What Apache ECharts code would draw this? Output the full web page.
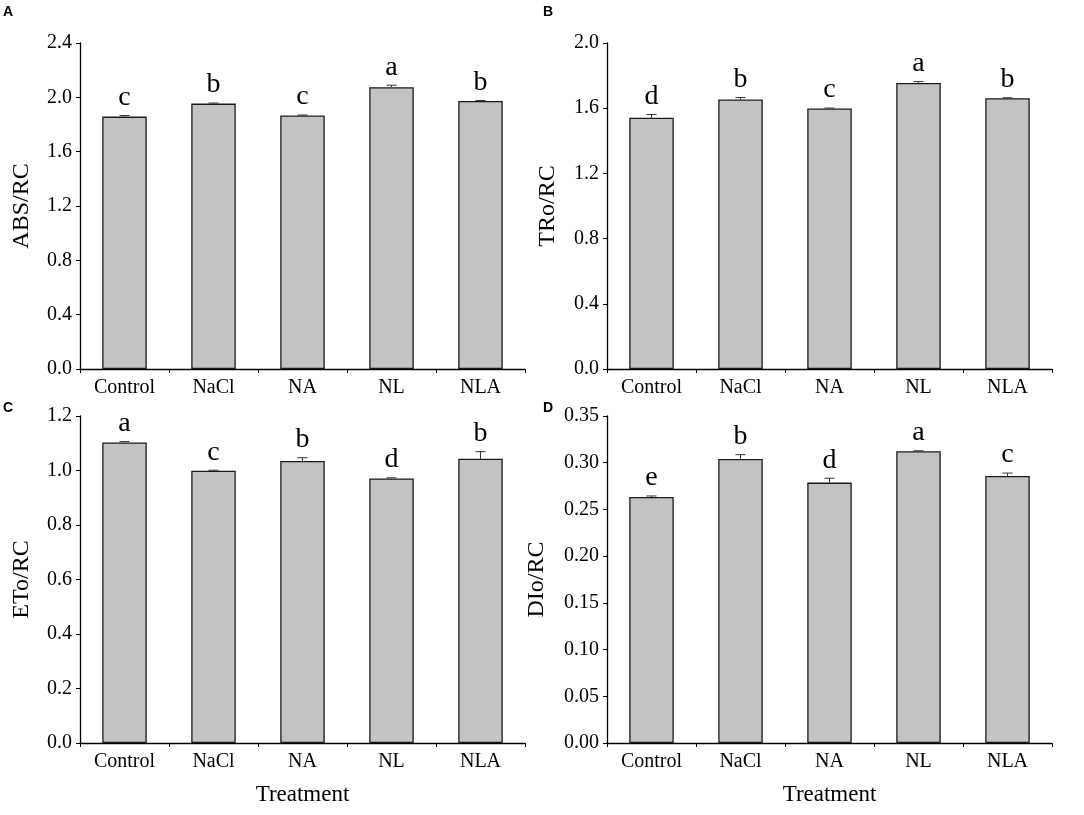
<!DOCTYPE html>
<html>
<head>
<meta charset="utf-8">
<title>Treatment chart</title>
<script src="https://cdn.jsdelivr.net/npm/echarts@6/dist/echarts.min.js"></script>
<style>
  html, body { margin: 0; padding: 0; background: #fff; }
  #main { width: 1084px; height: 815px; }
</style>
</head>
<body>
<div id="main"></div>
<script>
var categories = ['Control', 'NaCl', 'NA', 'NL', 'NLA'];

// A: ABS/RC
var absValues = [1.858, 1.954, 1.866, 2.074, 1.973];
var absErrors = [0.008, 0.004, 0.004, 0.015, 0.004];
var absLetters = ['c', 'b', 'c', 'a', 'b'];

// B: TRo/RC
var trValues = [1.541, 1.653, 1.598, 1.755, 1.661];
var trErrors = [0.02, 0.012, 0.003, 0.008, 0.003];
var trLetters = ['d', 'b', 'c', 'a', 'b'];

// C: ETo/RC
var etValues = [1.103, 0.999, 1.035, 0.971, 1.043];
var etErrors = [0.003, 0.002, 0.012, 0.002, 0.026];
var etLetters = ['a', 'c', 'b', 'd', 'b'];

// D: DIo/RC
var diValues = [0.2634, 0.304, 0.2787, 0.3123, 0.2859];
var diErrors = [0.001, 0.0046, 0.0047, 0.0005, 0.003];
var diLetters = ['e', 'b', 'd', 'a', 'c'];

var serif = '"Liberation Serif", "Times New Roman", serif';

var panels = [
    { name: 'ABS/RC', values: absValues, errors: absErrors, letters: absLetters, max: 2.4, interval: 0.4, digits: 1, gap: 46 },
    { name: 'TRo/RC', values: trValues, errors: trErrors, letters: trLetters, max: 2.0, interval: 0.4, digits: 1, gap: 47 },
    { name: 'ETo/RC', values: etValues, errors: etErrors, letters: etLetters, max: 1.2, interval: 0.2, digits: 1, gap: 46 },
    { name: 'DIo/RC', values: diValues, errors: diErrors, letters: diLetters, max: 0.35, interval: 0.05, digits: 2, gap: 58 }
];

var grids = [
    { left: 80, top: 43, width: 445, height: 326 },
    { left: 607, top: 43, width: 445, height: 326 },
    { left: 80, top: 416, width: 445, height: 327 },
    { left: 607, top: 416, width: 445, height: 327 }
];

var xAxes = [], yAxes = [], series = [];

panels.forEach(function(p, i) {
    xAxes.push({
        type: 'category',
        gridIndex: i,
        data: categories,
        name: i >= 2 ? 'Treatment' : '',
        nameLocation: 'middle',
        nameGap: 40,
        nameTextStyle: { fontFamily: serif, fontSize: 23, color: '#000' },
        axisLine: { lineStyle: { color: '#000', width: 1.3 } },
        axisTick: { show: true, length: 4, lineStyle: { color: '#000' } },
        axisLabel: { fontFamily: serif, fontSize: 20, color: '#000', margin: 9 }
    });
    yAxes.push({
        type: 'value',
        gridIndex: i,
        min: 0,
        max: p.max,
        interval: p.interval,
        name: p.name,
        nameLocation: 'middle',
        nameGap: p.gap,
        nameTextStyle: { fontFamily: serif, fontSize: 24, color: '#000' },
        axisLine: { show: true, lineStyle: { color: '#000', width: 1.3 } },
        axisTick: { show: true, length: 4, lineStyle: { color: '#000' } },
        splitLine: { show: false },
        axisLabel: {
            fontFamily: serif, fontSize: 20, color: '#000', margin: 8,
            formatter: function(v) { return v.toFixed(p.digits); }
        }
    });
    series.push({
        type: 'bar',
        xAxisIndex: i,
        yAxisIndex: i,
        data: p.values,
        barWidth: '50%',
        itemStyle: { color: '#c3c3c3', borderColor: '#1a1a1a', borderWidth: 1.3 }
    });
    // error bars + significance letters
    var errData = p.values.map(function(v, k) { return [k, v, p.errors[k]]; });
    series.push({
        type: 'custom',
        xAxisIndex: i,
        yAxisIndex: i,
        data: errData,
        z: 5,
        renderItem: function(params, api) {
            var base = api.coord([api.value(0), api.value(1)]);
            var top = api.coord([api.value(0), api.value(1) + api.value(2)]);
            var st = { stroke: '#333', lineWidth: 1 };
            return {
                type: 'group',
                children: [
                    { type: 'line', shape: { x1: base[0], y1: base[1], x2: top[0], y2: top[1] }, style: st },
                    { type: 'line', shape: { x1: top[0] - 5, y1: top[1], x2: top[0] + 5, y2: top[1] }, style: st },
                    {
                        type: 'text', x: top[0], y: top[1] - 4,
                        style: {
                            text: p.letters[params.dataIndex],
                            font: '28px ' + serif,
                            fill: '#000',
                            textAlign: 'center',
                            textVerticalAlign: 'bottom'
                        }
                    }
                ]
            };
        }
    });
});

var panelTitles = ['A', 'B', 'C', 'D'];
var titlePos = [[3, 5], [543, 5], [3, 401], [543, 401]];

var myChart = echarts.init(document.getElementById('main'));
myChart.setOption({
    backgroundColor: '#fff',
    animation: false,
    title: panelTitles.map(function(t, i) {
        return {
            text: t, left: titlePos[i][0], top: titlePos[i][1], padding: 0,
            textStyle: { fontFamily: 'Liberation Sans, Arial, sans-serif', fontWeight: 'bold', fontSize: 14, color: '#000' }
        };
    }),
    grid: grids,
    xAxis: xAxes,
    yAxis: yAxes,
    series: series
});
</script>
</body>
</html>
